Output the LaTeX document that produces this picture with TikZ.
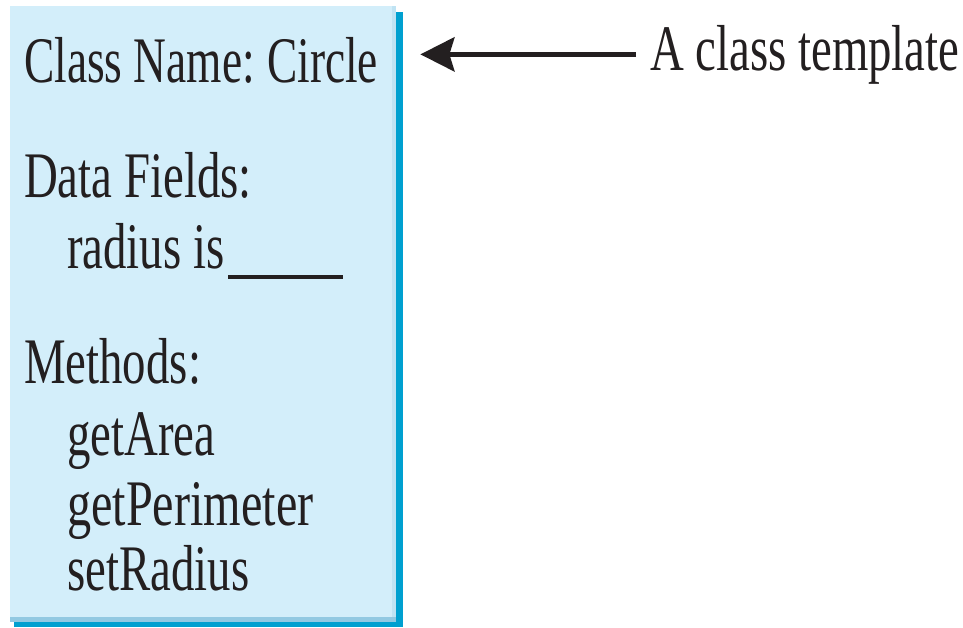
\documentclass[tikz,border=0pt]{standalone}
\usepackage{fontspec}
\setmainfont{Liberation Serif}[FakeStretch=0.72]
\usetikzlibrary{arrows.meta}
\definecolor{boxfill}{HTML}{D3EEFA}
\definecolor{boxshadow}{HTML}{00A0D0}
\definecolor{boxband}{HTML}{92C9E2}
\definecolor{boxrband}{HTML}{C0E3F3}
\definecolor{ink}{HTML}{231F20}
\tikzset{
  lbl/.style={anchor=base west, inner sep=0pt, text=ink, font=\fontsize{65}{70}\selectfont},
  pointer/.style={draw=ink, line width=5pt, -{Stealth[length=34pt,width=34pt,inset=5pt]}},
}
\begin{document}
\begin{tikzpicture}[x=1pt,y=-1pt]
\useasboundingbox (0,0) rectangle (963,627);
% shadow and bands
\fill[boxshadow] (14,12) rectangle (403,627);
\fill[boxband] (10,6) rectangle (396,622);
\node[fill=boxfill, inner sep=0pt, minimum width=386pt, minimum height=611pt, anchor=north west] (box) at (10,6) {};
\fill[boxrband] (392,6) rectangle (396,617);
% texts
\node[lbl] (cname) at (24,82) {\scalebox{0.97}[1]{Class Name:\hspace{-3pt} Circle}};
\node[lbl] (data) at (24,197) {Data Fields:};
\node[lbl] (radius) at (67,268) {radius is\hspace{4pt}\rule[-11pt]{115pt}{4pt}};
\node[lbl] (methods) at (24,383) {Methods:};
\node[lbl] (area) at (67,455) {getArea};
\node[lbl] (perim) at (67,525) {\scalebox{1.03}[1]{getPerimeter}};
\node[lbl] (setr) at (67,590) {setRadius};
\node[lbl] (tmpl) at (650,70) {A class template};
% arrow
\draw[pointer, shorten <=14pt, shorten >=24pt] (tmpl.west) -- (box.east |- tmpl.west);
\end{tikzpicture}
\end{document}
